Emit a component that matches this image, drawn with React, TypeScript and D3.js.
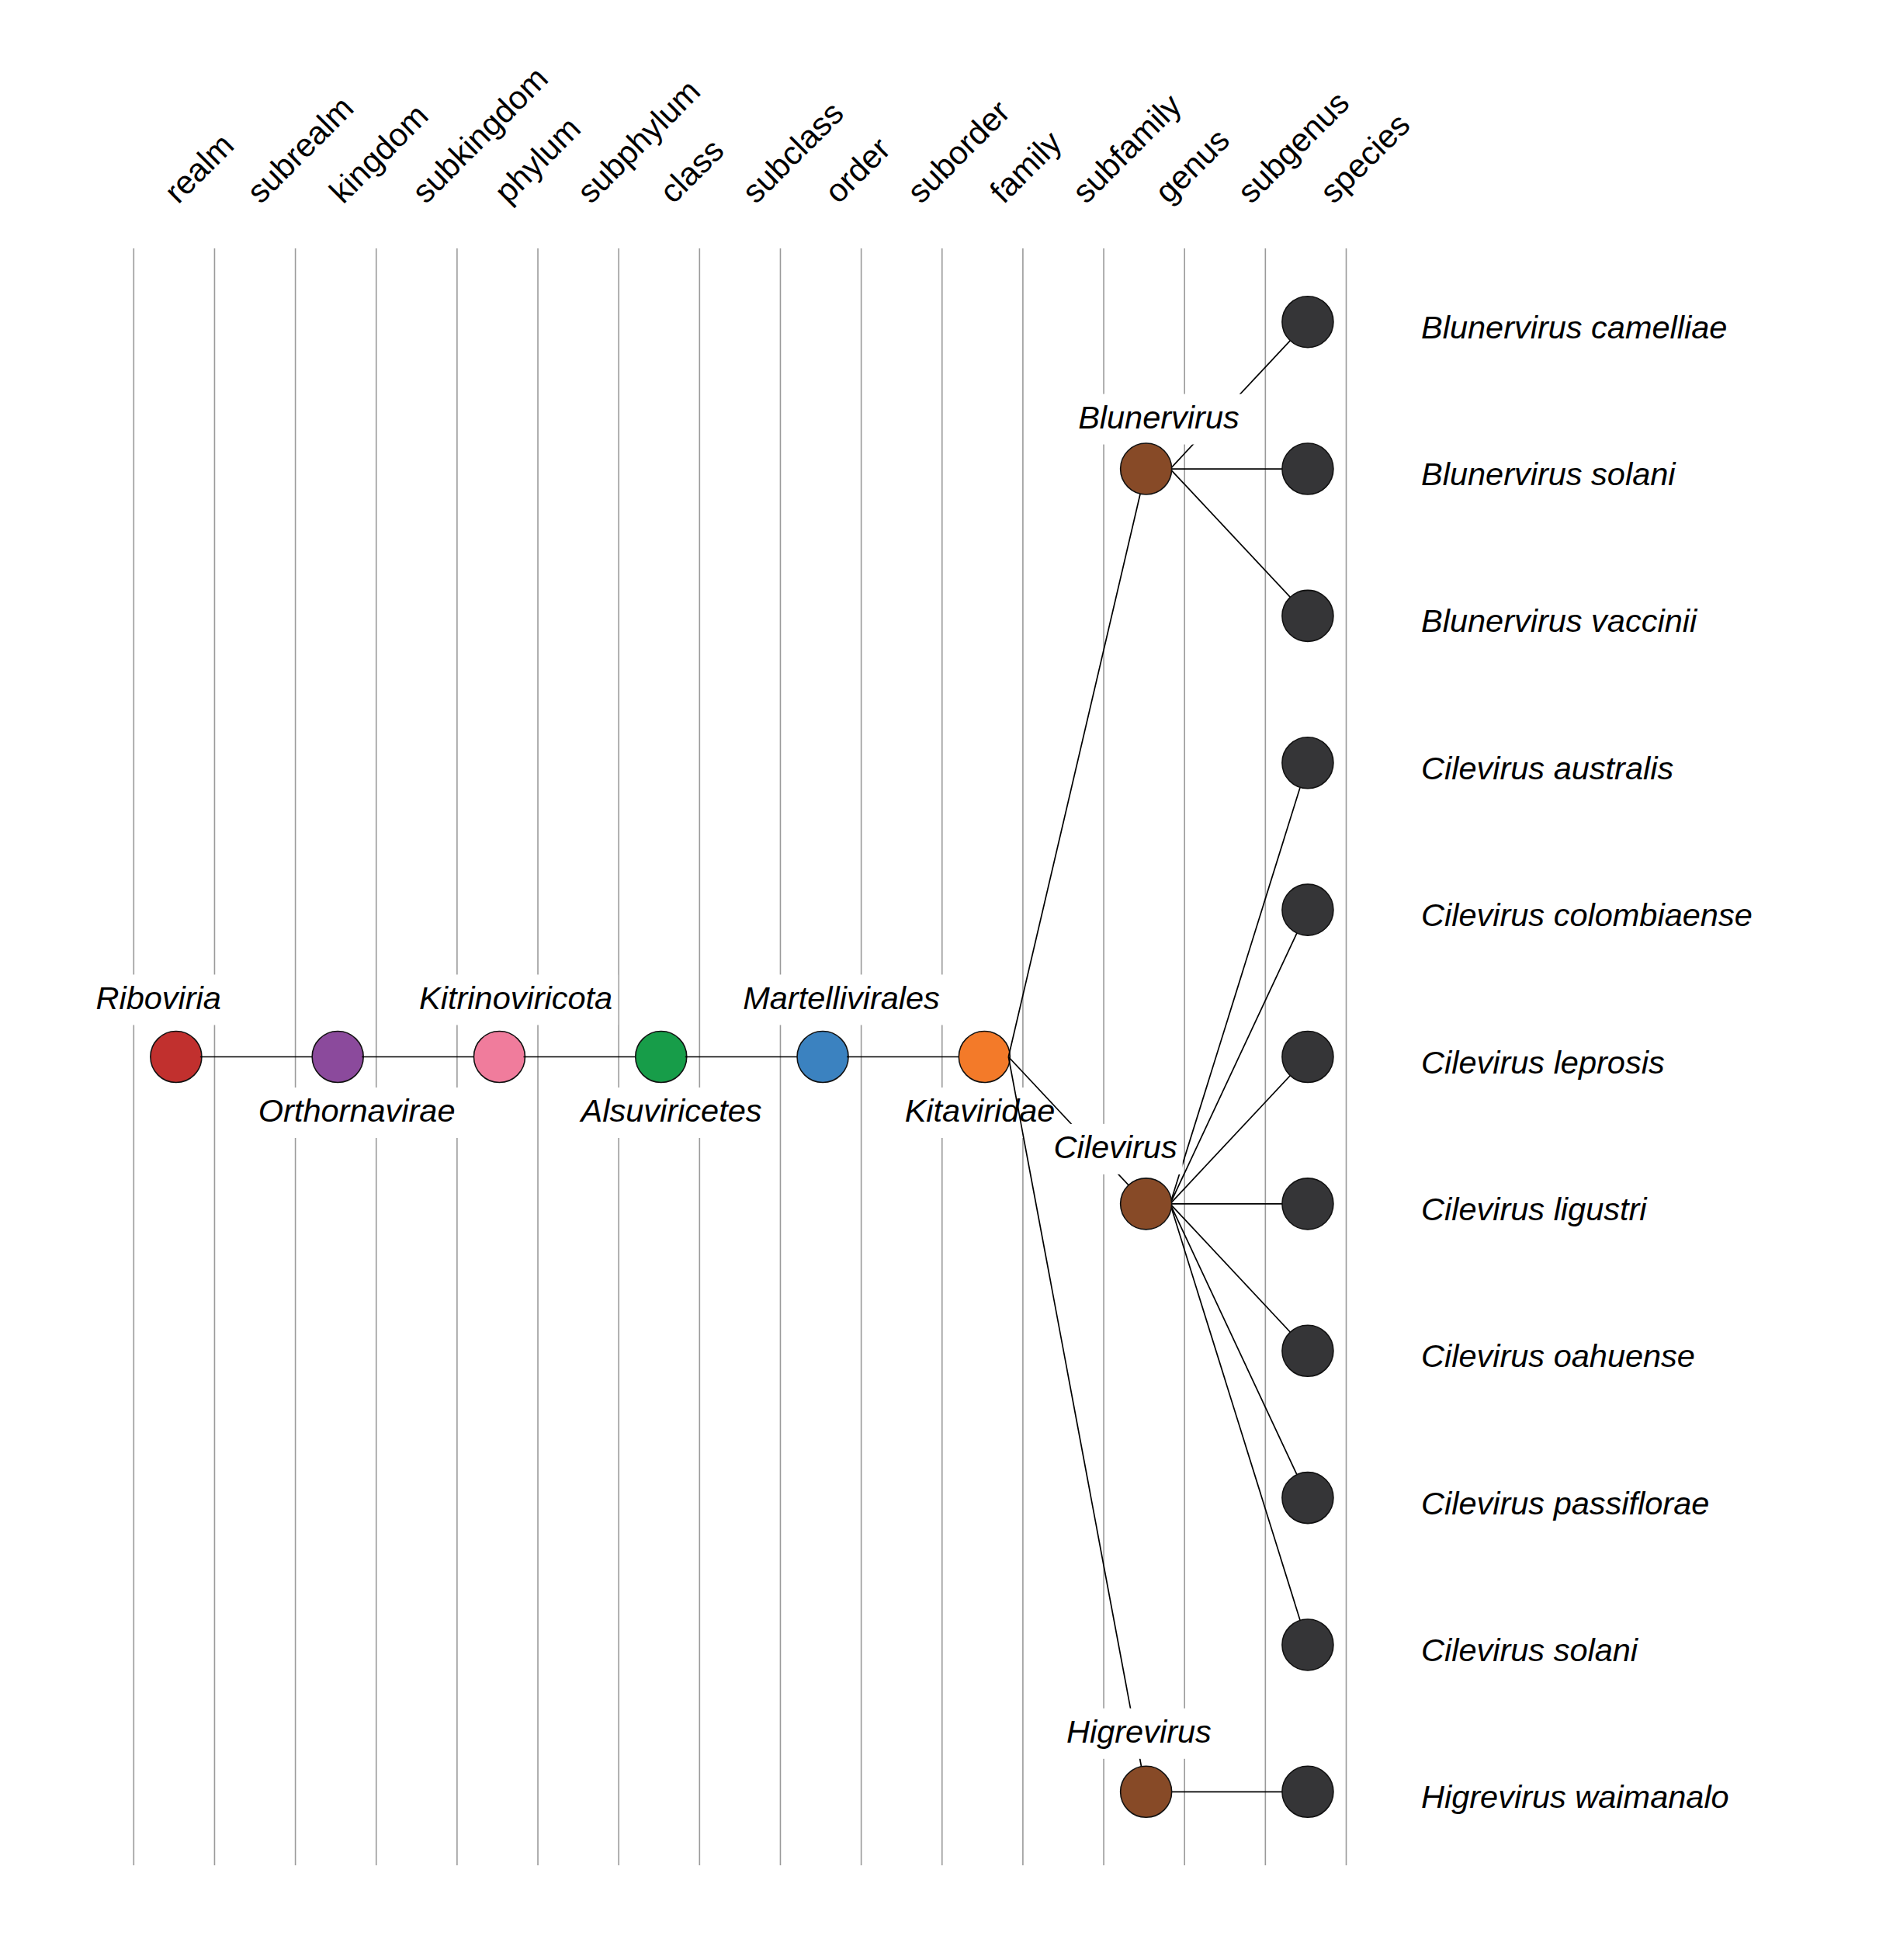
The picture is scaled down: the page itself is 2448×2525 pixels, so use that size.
import React, { useEffect, useRef } from "react";
import * as d3 from "d3";

// ---- data ----
const ranks = [
  "realm", "subrealm", "kingdom", "subkingdom", "phylum", "subphylum",
  "class", "subclass", "order", "suborder", "family", "subfamily",
  "genus", "subgenus", "species",
];
const lineageNames = ["Riboviria", "Orthornavirae", "Kitrinoviricota", "Alsuviricetes", "Martellivirales", "Kitaviridae"];
const lineageRanks = ["realm", "kingdom", "phylum", "class", "order", "family"];
const genusNames = ["Blunervirus", "Cilevirus", "Higrevirus"];
const speciesNames = [
  "Blunervirus camelliae", "Blunervirus solani", "Blunervirus vaccinii",
  "Cilevirus australis", "Cilevirus colombiaense", "Cilevirus leprosis",
  "Cilevirus ligustri", "Cilevirus oahuense", "Cilevirus passiflorae",
  "Cilevirus solani", "Higrevirus waimanalo",
];
const colorRanks = ["realm", "kingdom", "phylum", "class", "order", "family", "genus", "species"];
const colorValues = ["#c1302e", "#8b4a9c", "#f07c9c", "#179d49", "#3b82c0", "#f37a29", "#874a27", "#353537"];

// label placement (repel-style nudges relative to node centre; layout only)
const nudgeNames = [...lineageNames, ...genusNames];
const nudgeDx = [-22.7, 24.5, 21.2, 13.3, 24, -5.8, 16.3, -39.5, -9.2];
const nudgeDy = [-62, 83.5, -62, 83.5, -62, 83.5, -52.5, -59, -63.5];

const W = 2448;
const H = 2525;
const FONT = "'Liberation Sans', Arial, Helvetica, sans-serif";
const FS = 41.5;

type TNode = { name: string; rank: string; children?: TNode[] };

function buildTree(): TNode {
  const genusNodes: TNode[] = genusNames.map((g) => ({
    name: g,
    rank: "genus",
    children: speciesNames.filter((s) => s.split(" ")[0] === g).map((s) => ({ name: s, rank: "species" })),
  }));
  let node: TNode = { name: lineageNames[lineageNames.length - 1], rank: lineageRanks[lineageRanks.length - 1], children: genusNodes };
  for (let i = lineageNames.length - 2; i >= 0; i--) {
    node = { name: lineageNames[i], rank: lineageRanks[i], children: [node] };
  }
  return node;
}

export default function App() {
  const ref = useRef<SVGSVGElement | null>(null);

  useEffect(() => {
    const svg = d3.select(ref.current!);
    svg.selectAll("*").remove();

    const root = d3.hierarchy<TNode>(buildTree());
    const leaves = root.leaves();

    const x = d3.scaleBand<string>().domain(ranks).range([172.3, 1734.5]);
    const xHead = d3.scalePoint<string>().domain(ranks).range([229.4, 1718.3]);
    const y = d3.scaleBand<string>().domain(leaves.map((l) => l.data.name)).range([320, 2403]);
    const color = d3.scaleOrdinal<string, string>().domain(colorRanks).range(colorValues);

    const nx = (d: d3.HierarchyNode<TNode>) => (x(d.data.rank) as number) + x.bandwidth() / 2 + 2.5;
    const ny = (d: d3.HierarchyNode<TNode>) => {
      const lv = d.leaves();
      const a = (y(lv[0].data.name) as number) + y.bandwidth() / 2;
      const b = (y(lv[lv.length - 1].data.name) as number) + y.bandwidth() / 2;
      return (a + b) / 2;
    };
    const R = 33;

    svg.append("rect").attr("width", W).attr("height", H).attr("fill", "#fff");

    // grid lines
    const gridX = [...ranks.map((r) => x(r) as number), x.range()[1]];
    svg.append("g").selectAll("line").data(gridX).join("line")
      .attr("x1", (d) => d).attr("x2", (d) => d)
      .attr("y1", y.range()[0]).attr("y2", y.range()[1])
      .attr("stroke", "#9a9a9a").attr("stroke-width", 1.6);

    // header
    svg.append("g").selectAll("text").data(ranks).join("text")
      .attr("transform", (r) => `translate(${xHead(r)},264) rotate(-45)`)
      .attr("font-family", FONT).attr("font-size", 42).attr("fill", "#000")
      .text((r) => r);

    const drawLabel = (d: d3.HierarchyNode<TNode>) => {
      const i = nudgeNames.indexOf(d.data.name);
      const cx = nx(d) + nudgeDx[i];
      const base = ny(d) + nudgeDy[i];
      const g = svg.append("g");
      const rect = g.append("rect").attr("fill", "#fff");
      const t = g.append("text")
        .attr("x", cx).attr("y", base)
        .attr("text-anchor", "middle")
        .attr("font-family", FONT).attr("font-style", "italic").attr("font-size", FS)
        .attr("fill", "#000").text(d.data.name);
      const bb = (t.node() as SVGTextElement).getBBox();
      rect.attr("x", bb.x - 7).attr("y", base - 44).attr("width", bb.width + 14).attr("height", 65);
    };
    const drawCircle = (d: d3.HierarchyNode<TNode>) => {
      svg.append("circle")
        .attr("cx", nx(d)).attr("cy", ny(d)).attr("r", R)
        .attr("fill", color(d.data.rank)).attr("stroke", "#111").attr("stroke-width", 1.6);
    };
    const drawLinks = (d: d3.HierarchyNode<TNode>) => {
      svg.append("g").selectAll("line").data(d.children || []).join("line")
        .attr("x1", nx(d) + 31).attr("y1", ny(d))
        .attr("x2", (c) => nx(c)).attr("y2", (c) => ny(c))
        .attr("stroke", "#000").attr("stroke-width", 1.7);
    };

    const nodes = root.descendants();
    const lineageNodes = nodes.filter((n) => lineageNames.includes(n.data.name));
    const genusNodes = nodes.filter((n) => n.data.rank === "genus");
    const speciesNodes = nodes.filter((n) => n.data.rank === "species");

    lineageNodes.forEach((n) => {
      drawLabel(n);
      drawCircle(n);
      drawLinks(n);
    });
    genusNodes.forEach(drawLinks);
    genusNodes.forEach(drawLabel);
    genusNodes.forEach(drawCircle);
    speciesNodes.forEach(drawCircle);

    svg.append("g").selectAll("text").data(speciesNodes).join("text")
      .attr("x", 1831).attr("y", (d) => ny(d) + 21)
      .attr("font-family", FONT).attr("font-style", "italic").attr("font-size", FS)
      .attr("fill", "#000").text((d) => d.data.name);
  }, []);

  return (
    <svg
      ref={ref}
      width={W}
      height={H}
      style={{ display: "block", position: "absolute", left: 0, top: 0 }}
    />
  );
}
